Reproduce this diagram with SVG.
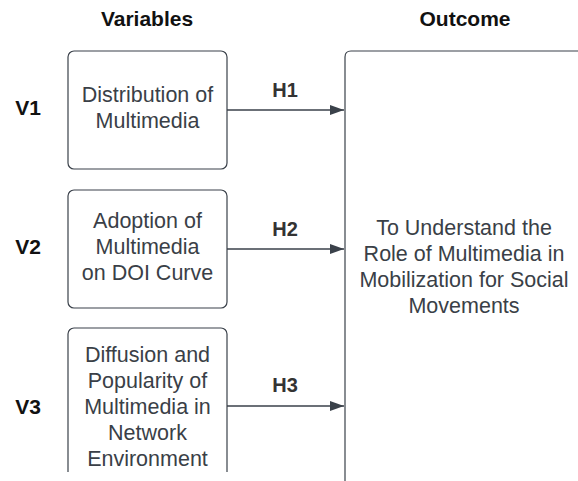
<svg xmlns="http://www.w3.org/2000/svg" width="578" height="481" viewBox="0 0 578 481">
  <style>
    .box { fill: #ffffff; stroke: #3a414a; stroke-width: 1.2; }
    .txt { font-family: "Liberation Sans", Arial, sans-serif; font-size: 21.5px; fill: #3a3f47; text-anchor: middle; }
    .head { font-family: "Liberation Sans", Arial, sans-serif; font-size: 21px; font-weight: bold; fill: #111111; text-anchor: middle; }
    .lbl { font-family: "Liberation Sans", Arial, sans-serif; font-size: 20px; font-weight: bold; fill: #333333; text-anchor: middle; }
    .conn { stroke: #3a414a; stroke-width: 1.4; fill: none; }
  </style>
  <defs>
    <marker id="arrow" markerWidth="14" markerHeight="10" refX="14" refY="5" orient="auto" markerUnits="userSpaceOnUse">
      <path d="M0,0 L14,5 L0,10 Z" fill="#3a414a"/>
    </marker>
    <clipPath id="frame"><rect x="0" y="0" width="578" height="472"/></clipPath>
  </defs>
  <rect width="578" height="481" fill="#ffffff"/>

  <text class="head" x="147" y="26">Variables</text>
  <text class="head" x="465" y="26">Outcome</text>

  <g id="v1"><text class="head" x="28" y="115">V1</text></g>
  <g id="v2"><text class="head" x="28" y="254">V2</text></g>
  <g id="v3"><text class="head" x="28" y="414">V3</text></g>

  <g id="node-distribution">
    <rect class="box" x="68" y="51" width="159" height="118" rx="6"/>
    <text class="txt" x="147.5" y="102">Distribution of</text>
    <text class="txt" x="147.5" y="128">Multimedia</text>
  </g>

  <g id="node-adoption">
    <rect class="box" x="68" y="190" width="159" height="118" rx="6"/>
    <text class="txt" x="147.5" y="228">Adoption of</text>
    <text class="txt" x="147.5" y="254">Multimedia</text>
    <text class="txt" x="147.5" y="280">on DOI Curve</text>
  </g>

  <g id="node-diffusion" clip-path="url(#frame)">
    <rect class="box" x="68" y="328" width="159" height="170" rx="6"/>
    <text class="txt" x="147.5" y="362">Diffusion and</text>
    <text class="txt" x="147.5" y="388">Popularity of</text>
    <text class="txt" x="147.5" y="414">Multimedia in</text>
    <text class="txt" x="147.5" y="440">Network</text>
    <text class="txt" x="147.5" y="466">Environment</text>
  </g>

  <g id="node-outcome">
    <path class="box" d="M345,481 L345,57 Q345,51 351,51 L590,51"/>
    <text class="txt" x="464" y="235">To Understand the</text>
    <text class="txt" x="464" y="261">Role of Multimedia in</text>
    <text class="txt" x="464" y="287">Mobilization for Social</text>
    <text class="txt" x="464" y="313">Movements</text>
  </g>

  <g id="connectors">
    <line class="conn" x1="227" y1="110" x2="344" y2="110" marker-end="url(#arrow)"/>
    <line class="conn" x1="227" y1="249" x2="344" y2="249" marker-end="url(#arrow)"/>
    <line class="conn" x1="227" y1="406" x2="344" y2="406" marker-end="url(#arrow)"/>
    <text class="lbl" x="285" y="97">H1</text>
    <text class="lbl" x="285" y="236">H2</text>
    <text class="lbl" x="285" y="392">H3</text>
  </g>
</svg>
